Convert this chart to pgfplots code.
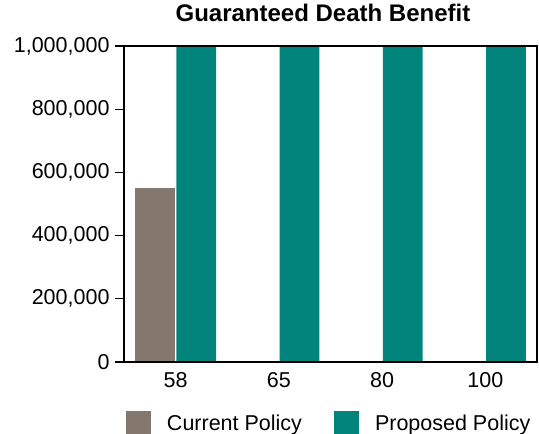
\documentclass[border=0pt]{standalone}
\usepackage{fontspec}
\setmainfont{Liberation Sans}
\usepackage{pgfplots}
\pgfplotsset{compat=1.18}

\definecolor{curgray}{RGB}{132,120,110}
\definecolor{propteal}{RGB}{0,132,124}

\begin{document}
\begin{tikzpicture}
\begin{axis}[
  at={(0,0)}, anchor=south west,
  scale only axis,
  width=413bp, height=316bp,
  xmin=-0.5, xmax=3.5,
  ymin=0, ymax=1000000,
  xtick={0,1,2,3},
  xticklabels={58,65,80,100},
  ytick={0,200000,400000,600000,800000,1000000},
  scaled y ticks=false,
  /pgf/number format/assume math mode=true,
  yticklabel style={xshift=-2bp, /pgf/number format/.cd, fixed, 1000 sep={,}},
  tick label style={font=\fontsize{21.5bp}{25bp}\selectfont},
  xticklabel style={yshift=2bp},
  axis line style={line width=1.3bp, black},
  major tick style={line width=1.3bp, black},
  xtick style={draw=none},
  ytick pos=left,
  tick align=outside,
  major tick length=9bp,
  axis on top=true,
  title={Guaranteed Death Benefit},
  title style={font=\bfseries\fontsize{24bp}{28bp}\selectfont,
    at={(axis description cs:0.5,1)}, anchor=base, yshift=19bp, xshift=-7.5bp},
  legend columns=2,
  legend style={draw=none, fill=none, inner sep=0pt, outer sep=0pt,
    at={(rel axis cs:0,0)}, anchor=north west, xshift=2bp, yshift=-49bp,
    nodes={inner sep=0pt, font=\fontsize{21.5bp}{25bp}\selectfont},
    /tikz/every odd column/.append style={column sep=16bp},
    /tikz/every even column/.append style={column sep=32bp}},
]
% Current policy: only the first age has a guaranteed benefit
\addplot[ybar, bar width=0.385, bar shift=-0.2, fill=curgray, draw=none,
  legend image code/.code={\fill[curgray] (0bp,-12.5bp) rectangle (25bp,12.5bp);}]
  coordinates {(0,550000) (1,0) (2,0) (3,0)};
\addlegendentry{Current Policy}
% Proposed policy: flat guaranteed benefit at every age
\addplot[ybar, bar width=0.385, bar shift=0.2, fill=propteal, draw=none,
  legend image code/.code={\fill[propteal] (0bp,-12.5bp) rectangle (25bp,12.5bp);}]
  coordinates {(0,1000000) (1,1000000) (2,1000000) (3,1000000)};
\addlegendentry{Proposed Policy}
\end{axis}
\pgfresetboundingbox
\useasboundingbox (-124bp,-72bp) rectangle (415bp,362bp);
\end{tikzpicture}
\end{document}
